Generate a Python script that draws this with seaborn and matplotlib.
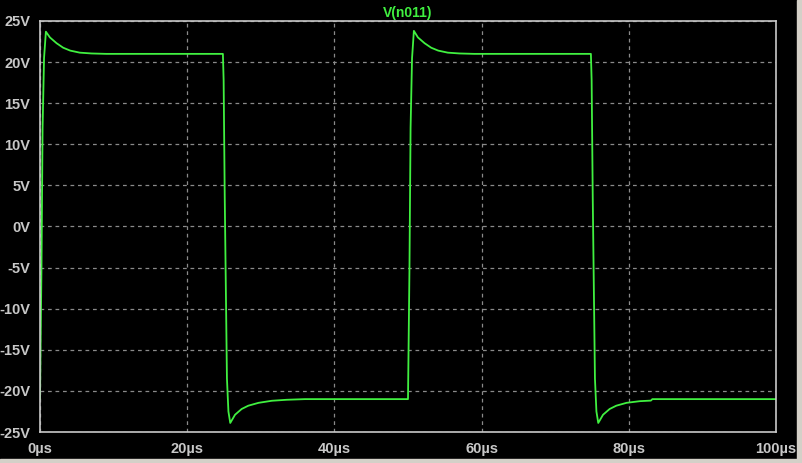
import pandas as pd
import matplotlib.pyplot as plt
import seaborn as sns
from matplotlib.patches import Rectangle

# trace V(n011) (time in us, volts)
time_us = [0.0, 0.2, 0.35, 0.55, 0.8, 1.35, 2.25, 3.15, 4.1, 5.4, 7.0, 9.0,
           24.85, 24.95, 25.1, 25.4, 25.6, 25.85, 26.5, 27.4, 28.3, 29.7, 31.5, 33.5, 36.0,
           50.0, 50.2, 50.35, 50.55, 50.8, 51.35, 52.25, 53.15, 54.1, 55.4, 57.0, 59.0,
           74.85, 74.95, 75.1, 75.4, 75.6, 75.85, 76.5, 77.4, 78.3, 79.7, 81.5, 83.0, 83.2, 100.0]
volts = [-21.0, -5.0, 12.0, 20.5, 23.7, 23.0, 22.3, 21.75, 21.4, 21.15, 21.05, 21.0,
         21.0, 17.8, 3.6, -18.5, -22.5, -23.9, -22.9, -22.2, -21.8, -21.45, -21.2, -21.08, -21.0,
         -21.0, -5.0, 12.0, 20.5, 23.8, 23.0, 22.3, 21.75, 21.4, 21.15, 21.05, 21.0,
         21.0, 17.8, 3.6, -18.5, -22.5, -23.9, -22.9, -22.2, -21.8, -21.45, -21.25, -21.18, -21.0, -21.0]

x_ticks = [0, 20, 40, 60, 80, 100]
x_labels = ["0µs", "20µs", "40µs", "60µs", "80µs", "100µs"]
y_ticks = [-25, -20, -15, -10, -5, 0, 5, 10, 15, 20, 25]
y_labels = ["-25V", "-20V", "-15V", "-10V", "-5V", "0V", "5V", "10V", "15V", "20V", "25V"]

trace_color = "#40f040"
fg = "#c8c8c8"

df = pd.DataFrame({"t": time_us, "v": volts})

sns.set_style("dark")
plt.rcParams["font.family"] = ["Liberation Sans", "DejaVu Sans"]

fig = plt.figure(figsize=(8.02, 4.63), dpi=100, facecolor="black")
ax = fig.add_axes([40 / 802, 31 / 463, 736 / 802, 411 / 463])
ax.set_facecolor("black")

sns.lineplot(data=df, x="t", y="v", ax=ax, color=trace_color, linewidth=1.3,
             estimator=None, sort=False)

ax.set_xlim(0, 100)
ax.set_ylim(-25, 25)
ax.set_xticks(x_ticks)
ax.set_xticklabels(x_labels)
ax.set_yticks(y_ticks)
ax.set_yticklabels(y_labels)
ax.set_xlabel("")
ax.set_ylabel("")

ax.grid(True, color="#8a8a8a", linestyle=(0, (3, 3)), linewidth=0.9)
for s in ax.spines.values():
    s.set_visible(True)
    s.set_color(fg)
    s.set_linewidth(1.2)
ax.tick_params(colors=fg, labelcolor=fg, length=6, width=1.2, direction="out",
               labelsize=10.5, pad=1)
for lab in ax.get_xticklabels() + ax.get_yticklabels():
    lab.set_fontweight("bold")

ax.set_title("V(n011)", color=trace_color, fontsize=10, fontweight="bold", pad=3)

# window frame at bottom and right edge
fig.patches.append(Rectangle((0, 0), 1, 4 / 463, transform=fig.transFigure,
                             color="#d4d0c8", zorder=5))
fig.patches.append(Rectangle((797 / 802, 0), 5 / 802, 1, transform=fig.transFigure,
                             color="#d4d0c8", zorder=5))

fig.savefig("out.png", dpi=100, facecolor="black")
